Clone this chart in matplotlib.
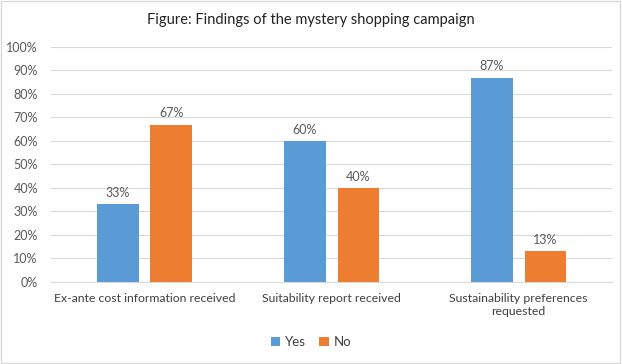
import matplotlib
matplotlib.use("Agg")
import matplotlib.pyplot as plt
import numpy as np
from matplotlib.patches import Rectangle

categories = ["Ex-ante cost information received", "Suitability report received",
              "Sustainability preferences\nrequested"]
yes_vals = [33, 60, 87]
no_vals = [67, 40, 13]
series_names = ["Yes", "No"]
yticks = list(range(0, 101, 10))

plt.rcParams['font.family'] = ['Lato', 'DejaVu Sans']
fig = plt.figure(figsize=(6.22, 3.64), dpi=100)
fig.patch.set_facecolor("white")
fig.add_artist(Rectangle((0.002, 0.003), 0.995, 0.994, transform=fig.transFigure,
                         fill=False, edgecolor="#D9D9D9", linewidth=1))
ax = fig.add_axes([0.082, 0.2253, 0.902, 0.6457])

x = np.arange(len(categories))
w = 0.22
off = 0.142
c_yes = "#5B9BD5"
c_no = "#ED7D31"
b1 = ax.bar(x - off, yes_vals, w, color=c_yes, label=series_names[0], zorder=3)
b2 = ax.bar(x + off, no_vals, w, color=c_no, label=series_names[1], zorder=3)
for bars, vals in ((b1, yes_vals), (b2, no_vals)):
    for r, v in zip(bars, vals):
        ax.text(r.get_x() + r.get_width() / 2, v + 2.2, f"{v}%", ha="center", va="bottom",
                fontsize=9, color="#595959")

ax.set_xlim(-0.5, 2.5)
ax.set_ylim(0, 100)
ax.set_yticks(yticks)
ax.set_yticklabels([f"{t}%" for t in yticks], fontsize=9, color="#595959")
ax.set_xticks(x)
ax.set_xticklabels(categories, fontsize=8.8, color="#404040")
ax.tick_params(axis="x", length=0, pad=8)
ax.tick_params(axis="y", length=0, pad=9.5)
ax.grid(axis="y", color="#D9D9D9", linewidth=0.8, zorder=0)
for s in ["top", "right", "left"]:
    ax.spines[s].set_visible(False)
ax.spines["bottom"].set_color("#D9D9D9")

fig.text(0.5, 0.945, "Figure: Findings of the mystery shopping campaign", ha="center",
         va="center", fontsize=10.5, color="#222222")
fig.legend(handles=[b1, b2], labels=series_names, loc="center", bbox_to_anchor=(0.5, 0.06),
           ncol=2, frameon=False, fontsize=9.5, handlelength=0.7, handleheight=0.7,
           handletextpad=0.4, columnspacing=1.0, labelcolor="#404040")

fig.savefig("out.png", dpi=100, facecolor="white")
